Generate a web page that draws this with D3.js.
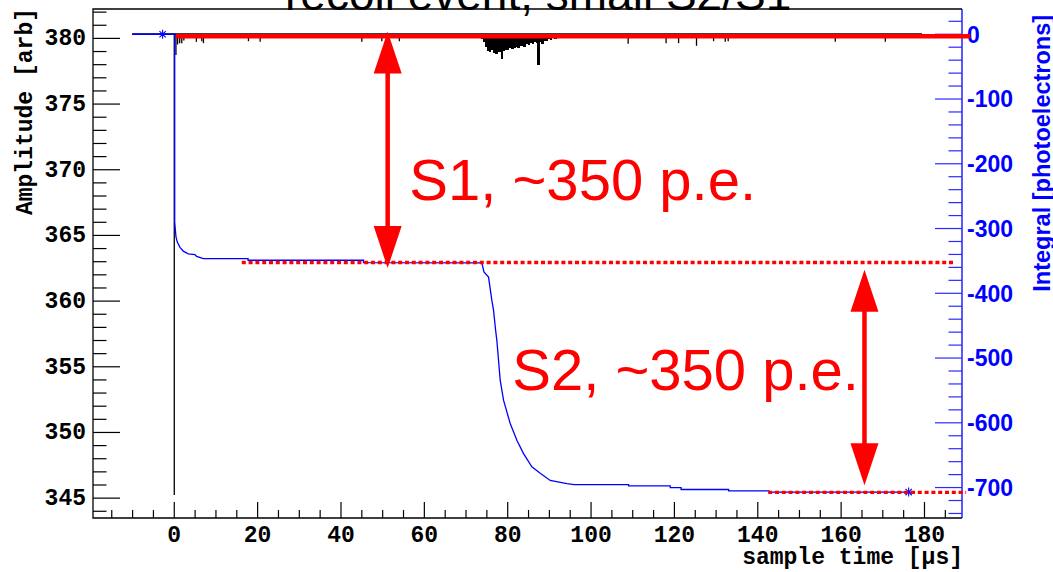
<!DOCTYPE html>
<html><head><meta charset="utf-8">
<script src="https://cdn.jsdelivr.net/npm/d3@7"></script>
<style>body{margin:0;background:#fff}svg{display:block}</style>
</head><body><svg id="c" width="1053" height="572"></svg>
<script>
// ---------------- data ----------------
const titleText = "recoil event, small S2/S1";
const xLabel = "sample time [\u03bcs]";
const yLeftLabel = "Amplitude [arb]";
const yRightLabel = "Integral [photoelectrons]";

const xMajorTicks = [0, 20, 40, 60, 80, 100, 120, 140, 160, 180];
const yLeftMajorTicks = [345, 350, 355, 360, 365, 370, 375, 380];
const yRightMajorTicks = [0, -100, -200, -300, -400, -500, -600, -700];

// integral (blue) trace: time [us], integral [p.e.]
const integT = [-10.1, 0.1, 0.1, 0.41, 0.72, 1.37, 2.16, 3.36, 4.97, 5.38, 6.96, 17.7, 17.7, 45.4, 45.4,
  73.8, 74.3, 75.4, 76.2, 76.6, 77.1, 77.4, 78.2, 79.0, 80.6, 82.2, 83.8, 85.8, 87.8, 90.2, 94.2,
  96, 109, 109, 119, 119, 121.6, 121.6, 133, 133, 142.7, 142.7, 176.2];
const integV = [0, 0, -290, -313, -321, -329, -335, -339, -340.4, -343, -346.6, -346.6, -349, -349, -352.8,
  -353, -367, -375, -411, -426, -457, -473, -534, -565, -601, -627, -647.5, -668, -678, -689, -694,
  -695.5, -695.5, -697.5, -697.5, -700, -700, -703, -703, -705, -705, -707, -707];
const markerT = [-2.8, 176.2];
const markerV = [0, -707];

// raw waveform (black): baseline and downward excursions
const waveStart = -10.1, waveEnd = 179.4, waveBaseline = 380.28;
const spikeT = [0, 0.4, 0.8, 1.3, 1.8, 2.3, 5.3, 6.6, 7.0, 17.8, 20.6, 45.0, 49.8, 54.0, 108.9, 118.0,
  121.0, 125.3, 129.4, 132.2, 132.9, 158.6, 170.6];
const spikeA = [345.2, 378.7, 379.5, 379.6, 379.6, 379.8, 379.7, 379.75, 379.6, 379.75, 379.7, 379.7,
  379.75, 379.75, 379.55, 379.6, 379.6, 379.4, 379.75, 379.7, 379.75, 379.7, 379.7];
const blobT = [73.8, 74.3, 74.8, 75.3, 75.8, 76.3, 76.8, 77.3, 77.8, 78.3, 78.6, 79.1, 79.6, 80.1, 80.6,
  81.1, 81.6, 82.1, 82.6, 83.1, 83.6, 84.1, 84.6, 85.1, 85.6, 86.1, 86.6, 87.1, 87.4, 87.9, 88.4, 88.9,
  89.4, 89.9, 90.4, 90.9, 91.4, 91.9];
const blobA = [379.95, 379.7, 379.3, 379.0, 378.95, 379.05, 378.85, 378.8, 378.95, 378.9, 378.4, 379.0,
  379.1, 379.05, 379.2, 379.15, 379.25, 379.3, 379.2, 379.35, 379.4, 379.3, 379.5, 379.45, 379.6, 379.5,
  379.7, 379.6, 377.9, 379.65, 379.55, 379.8, 379.75, 379.9, 379.85, 380.0, 379.95, 380.1];

// red annotations (in data units: time, integral)
const baseLine = {t0: 0.4, t1: 191, v: -3.2};
const s1Line = {t0: 16.2, t1: 187, v: -352.5};
const s2Line = {t0: 142.5, t1: 190, v: -707.5};
const arrowT = [51.2, 165.6];
const arrowTop = [4.2, -363.6];
const arrowBot = [-361, -696.5];
const labelText = ["S1, ~350 p.e.", "S2, ~350 p.e."];
const labelT = [56.4, 81.1];
const labelV = [-255.5, -549.5];

// ---------------- drawing ----------------
const svg = d3.select("#c");
const L = 93, R = 962, T = 9, B = 518;
const x = d3.scaleLinear().domain([-19.5, 189]).range([L, R]);
const yL = d3.scaleLinear().domain([343.45, 382.2]).range([B, T]);
const yR = d3.scaleLinear().domain([-747, 39]).range([B, T]);
const mono = "'Liberation Mono','Courier New',monospace";
const sans = "'Liberation Sans',Arial,Helvetica,sans-serif";

// title (partially clipped at top)
svg.append("text").attr("x", 285).attr("y", 9.5).attr("font-family", sans).attr("font-size", 46)
  .attr("fill", "#000").text(titleText);

// left axis
const gL = svg.append("g");
const lMinor = d3.range(344, 383, 1);
gL.selectAll("line.mi").data(lMinor).join("line")
  .attr("x1", L).attr("x2", d => yLeftMajorTicks.includes(d) ? L + 27 : L + 13.5)
  .attr("y1", d => yL(d) + 0.5).attr("y2", d => yL(d) + 0.5).attr("stroke", "#000").attr("stroke-width", 1.2);
gL.selectAll("text").data(yLeftMajorTicks).join("text")
  .attr("x", 86).attr("y", d => yL(d) + 7.5).attr("text-anchor", "end")
  .attr("font-family", mono).attr("font-weight", "bold").attr("font-size", 23).text(d => d);
svg.append("text").attr("transform", `translate(32,${T - 1}) rotate(-90)`).attr("text-anchor", "end")
  .attr("font-family", mono).attr("font-weight", "bold").attr("font-size", 23).text(yLeftLabel);

// bottom axis
const gB = svg.append("g");
const bMinor = d3.range(-15, 190, 5);
gB.selectAll("line").data(bMinor).join("line")
  .attr("x1", d => x(d)).attr("x2", d => x(d))
  .attr("y1", B).attr("y2", d => xMajorTicks.includes(d) ? B - 16 : B - 8)
  .attr("stroke", "#000").attr("stroke-width", 1.2);
gB.selectAll("text").data(xMajorTicks).join("text")
  .attr("x", d => x(d)).attr("y", 541.5).attr("text-anchor", "middle")
  .attr("font-family", mono).attr("font-weight", "bold").attr("font-size", 23).text(d => d);
svg.append("text").attr("x", R + 1).attr("y", 563.5).attr("text-anchor", "end")
  .attr("font-family", mono).attr("font-weight", "bold").attr("font-size", 23).text(xLabel);

// frame
svg.append("path").attr("d", `M${R},${T}H${L}V${B}H${R}`).attr("fill", "none")
  .attr("stroke", "#000").attr("stroke-width", 1.3);

// right axis (blue)
const gR = svg.append("g");
gR.append("line").attr("x1", R).attr("x2", R).attr("y1", T).attr("y2", B)
  .attr("stroke", "#0000ff").attr("stroke-width", 1.3);
const rMinor = d3.range(20, -741, -20);
gR.selectAll("line.t").data(rMinor).join("line")
  .attr("x1", R).attr("x2", d => yRightMajorTicks.includes(d) ? R - 27 : R - 13.5)
  .attr("y1", d => yR(d)).attr("y2", d => yR(d)).attr("stroke", "#2a2aff").attr("stroke-width", 1.2);
gR.selectAll("text").data(yRightMajorTicks).join("text")
  .attr("x", 967).attr("y", d => yR(d) + 8.3).attr("text-anchor", "start")
  .attr("font-family", sans).attr("font-weight", "bold").attr("font-size", 23)
  .attr("fill", "#0000ff").text(d => d);
svg.append("text").attr("transform", `translate(1050,291.7) rotate(-90)`).attr("text-anchor", "start")
  .attr("font-family", sans).attr("font-weight", "bold").attr("font-size", 23.5)
  .attr("fill", "#0000ff").text(yRightLabel);

// black waveform
const gW = svg.append("g");
gW.append("line").attr("x1", x(waveStart)).attr("x2", x(waveEnd))
  .attr("y1", yL(waveBaseline)).attr("y2", yL(waveBaseline)).attr("stroke", "#000").attr("stroke-width", 1.8);
gW.selectAll("line.s").data(spikeT).join("line")
  .attr("x1", d => x(d)).attr("x2", d => x(d))
  .attr("y1", yL(waveBaseline)).attr("y2", (d, i) => yL(spikeA[i]))
  .attr("stroke", "#000").attr("stroke-width", 1.3);
gW.selectAll("rect").data(blobT).join("rect")
  .attr("x", d => x(d) - 1.3).attr("width", 2.6)
  .attr("y", yL(waveBaseline)).attr("height", (d, i) => yL(blobA[i]) - yL(waveBaseline))
  .attr("fill", "#000").attr("shape-rendering", "crispEdges");

// blue integral trace
const line = d3.line().x(d => x(d[0])).y(d => yR(d[1]));
svg.append("path").datum(integT.map((t, i) => [t, integV[i]]))
  .attr("d", line).attr("fill", "none").attr("stroke", "#0000ff").attr("stroke-width", 1.3);
markerT.forEach((t, i) => {
  const cx = x(t), cy = yR(markerV[i]), s = 4.5;
  svg.append("path").attr("d",
    `M${cx - s},${cy}H${cx + s}M${cx},${cy - s}V${cy + s}M${cx - s * .7},${cy - s * .7}L${cx + s * .7},${cy + s * .7}M${cx - s * .7},${cy + s * .7}L${cx + s * .7},${cy - s * .7}`)
    .attr("stroke", "#0000ff").attr("stroke-width", 1.1).attr("fill", "none");
});

// red annotations
const red = "#ff0000";
svg.append("line").attr("x1", x(baseLine.t0)).attr("x2", x(baseLine.t1))
  .attr("y1", yR(baseLine.v)).attr("y2", yR(baseLine.v)).attr("stroke", red).attr("stroke-width", 4.5);
[s1Line, s2Line].forEach(l => {
  svg.append("line").attr("x1", x(l.t0)).attr("x2", x(l.t1))
    .attr("y1", yR(l.v)).attr("y2", yR(l.v)).attr("stroke", red).attr("stroke-width", 3.4)
    .attr("stroke-dasharray", "4,2.8");
});
const headL = 42, headW = 28;
arrowT.forEach((t, i) => {
  const ax = x(t), y1 = yR(arrowTop[i]), y2 = yR(arrowBot[i]);
  svg.append("line").attr("x1", ax).attr("x2", ax).attr("y1", y1 + headL - 1).attr("y2", y2 - headL + 1)
    .attr("stroke", red).attr("stroke-width", 4.5);
  svg.append("path").attr("d", `M${ax},${y1}L${ax + headW / 2},${y1 + headL}H${ax - headW / 2}Z`).attr("fill", red);
  svg.append("path").attr("d", `M${ax},${y2}L${ax + headW / 2},${y2 - headL}H${ax - headW / 2}Z`).attr("fill", red);
});
labelText.forEach((s, i) => {
  svg.append("text").attr("x", x(labelT[i])).attr("y", yR(labelV[i]))
    .attr("font-family", sans).attr("font-size", 58).attr("fill", red).text(s);
});
</script></body></html>
